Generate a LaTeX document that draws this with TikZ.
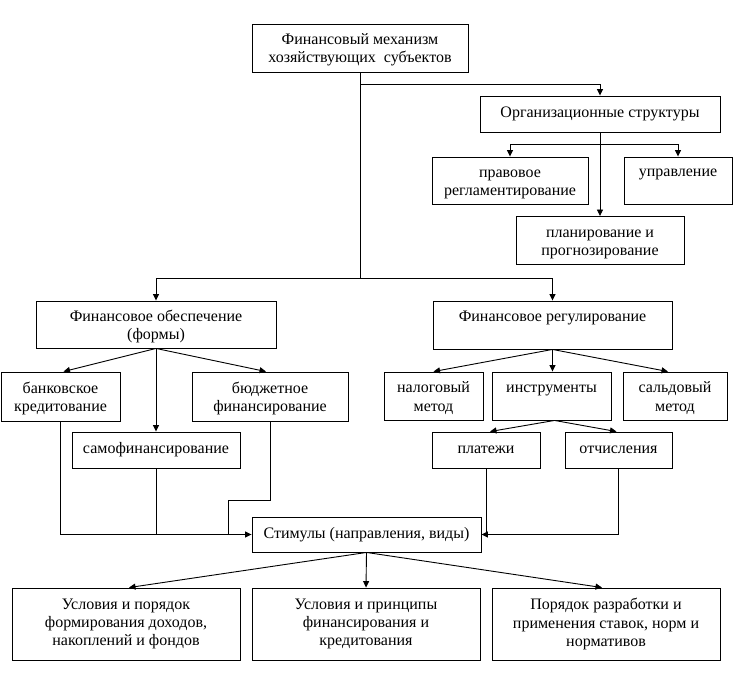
\documentclass[tikz,border=0pt]{standalone}
\usepackage{fontspec}
\setmainfont{Liberation Serif}
\usetikzlibrary{arrows.meta,calc}
\newcommand\tstr{\rule{0pt}{15pt}}
\begin{document}
\begin{tikzpicture}[x=1pt,y=-1pt,
  font=\fontsize{16}{18.4}\selectfont,
  bx/.style 2 args={draw,line width=.9pt,inner sep=0pt,align=center,minimum width=#1,minimum height=#2},
  topline/.style={text height=12pt,text depth=19pt},
  conn/.style={line width=.9pt},
  arr/.style={conn,-{Triangle[length=6.5pt,width=6pt]}}]
\fill[white] (0,0) rectangle (733,684);
\useasboundingbox (0,0) rectangle (733,684);
% nodes
\node[bx={216pt}{48pt}] (top) at (360,48) {\tstr Финансовый механизм\\хозяйствующих\ \ субъектов};
\node[bx={240pt}{36pt}] (org) at (600,114) {Организационные структуры};
\node[bx={156pt}{47pt}] (prav) at (510,180.5) {\tstr правовое\\регламентирование};
\node[bx={108pt}{47pt},topline] (upr) at (678,180.5) {управление};
\node[bx={168pt}{48pt}] (plan) at (600,240.5) {\tstr планирование и\\прогнозирование};
\node[bx={240pt}{47pt}] (fo) at (156,324.5) {\tstr Финансовое обеспечение\\(формы)};
\node[bx={239pt}{48pt},topline] (fr) at (552.5,325) {Финансовое регулирование};
\node[bx={119pt}{49pt}] (bank) at (60.5,396.5) {\tstr банковское\\кредитование};
\node[bx={156pt}{49pt}] (budg) at (270,396.5) {\tstr бюджетное\\финансирование};
\node[bx={168pt}{36pt}] (samo) at (156,450) {самофинансирование};
\node[bx={99pt}{48pt}] (nal) at (433.5,396) {\tstr налоговый\\метод};
\node[bx={119pt}{48pt},topline] (inst) at (551.5,396) {инструменты};
\node[bx={104pt}{48pt}] (sald) at (675,396) {\tstr сальдовый\\метод};
\node[bx={108pt}{36pt}] (plat) at (486,450) {платежи};
\node[bx={107pt}{36pt}] (otch) at (618.5,450) {отчисления};
\node[bx={229pt}{35pt}] (stim) at (366.5,534.5) {Стимулы (направления, виды)};
\node[bx={228pt}{72pt}] (b1) at (126,624) {Условия и порядок\\формирования доходов,\\накоплений и фондов};
\node[bx={228pt}{72pt}] (b2) at (366,624) {Условия и принципы\\финансирования и\\кредитования};
\node[bx={228pt}{72pt}] (b3) at (606,624) {Порядок разработки и\\применения ставок, норм и\\нормативов};
% connectors
\coordinate (j0) at (360,84);
\coordinate (j1) at (360,278);
\coordinate (j2) at (600,144);
\draw[conn] (top.south) -- (j1);
\draw[arr] (j0) -| (org.north);
\draw[arr] (j1) -| (fo.north);
\draw[arr] (j1) -| (fr.north);
\draw[arr] (org.south) -- (plan.north);
\draw[arr] (j2) -| (prav.north);
\draw[arr] (j2) -| (upr.north);
\draw[arr] (fo.south) -- ([xshift=3pt]bank.north);
\draw[arr] (fo.south) -- (samo.north);
\draw[arr] (fo.south) -- ([xshift=-4pt]budg.north);
\draw[arr] (fr.south) -- (nal.north);
\draw[arr] (fr.south) -- (fr.south |- inst.north);
\draw[arr] (fr.south) -- ([xshift=-7pt]sald.north);
\draw[arr] ([xshift=3pt]inst.south) -- ([xshift=4pt]plat.north);
\draw[arr] ([xshift=3pt]inst.south) -- ([xshift=-2pt]otch.north);
\coordinate (k1) at (270,500);
\coordinate (k2) at (228.5,500);
\draw[arr] (bank.south) |- (stim.west);
\draw[conn] (samo.south) -- (samo.south |- stim.west);
\draw[conn] (budg.south) -- (k1) -- (k2) -- (k2 |- stim.west);
\draw[arr] (otch.south) |- (stim.east);
\draw[conn] (plat.south) -- (plat.south |- stim.east);
\draw[arr] (stim.south) -- ([xshift=3pt]b1.north);
\draw[arr] (stim.south) -- (b2.north);
\draw[arr] (stim.south) -- ([xshift=-4pt]b3.north);
\end{tikzpicture}
\end{document}
